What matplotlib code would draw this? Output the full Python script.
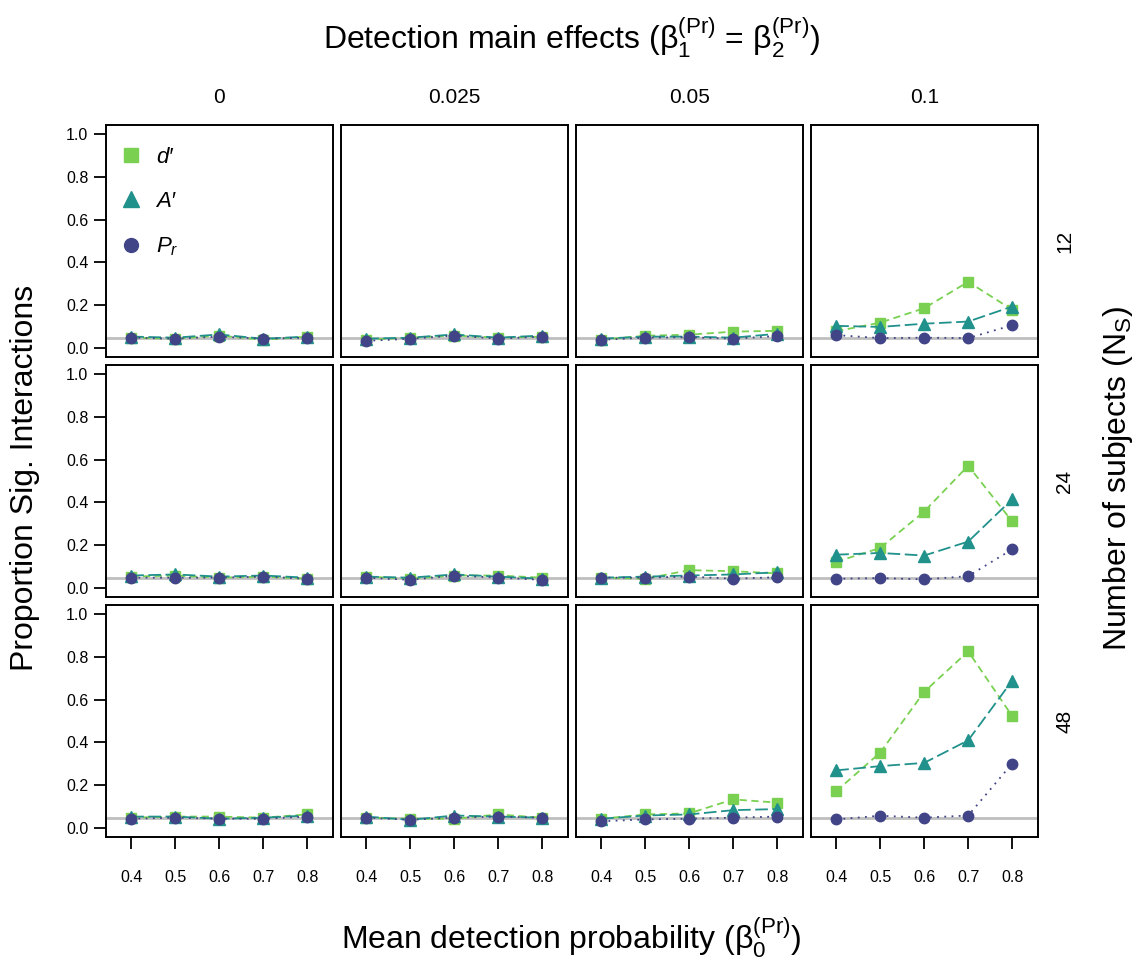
import matplotlib
matplotlib.use("Agg")
import matplotlib.pyplot as plt
from matplotlib.lines import Line2D
import numpy as np

plt.rcParams['font.family'] = ['Liberation Sans', 'DejaVu Sans']
plt.rcParams['mathtext.fontset'] = 'custom'
plt.rcParams['mathtext.rm'] = 'Liberation Sans'
plt.rcParams['mathtext.it'] = 'Liberation Sans:italic'
plt.rcParams['mathtext.bf'] = 'Liberation Sans:bold'

# ---------------- data ----------------
x_vals = [0.4, 0.5, 0.6, 0.7, 0.8]
effects = ["0", "0.025", "0.05", "0.1"]
subjects = ["12", "24", "48"]

# dprime[row][col]
dprime = [
    [[0.050, 0.045, 0.060, 0.040, 0.055],
     [0.040, 0.050, 0.060, 0.050, 0.055],
     [0.041, 0.059, 0.064, 0.078, 0.082],
     [0.080, 0.120, 0.187, 0.310, 0.180]],
    [[0.055, 0.060, 0.050, 0.055, 0.045],
     [0.055, 0.045, 0.060, 0.060, 0.050],
     [0.050, 0.045, 0.085, 0.080, 0.070],
     [0.124, 0.188, 0.358, 0.571, 0.312]],
    [[0.050, 0.055, 0.055, 0.050, 0.065],
     [0.050, 0.045, 0.045, 0.065, 0.050],
     [0.045, 0.065, 0.070, 0.135, 0.120],
     [0.173, 0.353, 0.636, 0.824, 0.523]],
]
aprime = [
    [[0.055, 0.050, 0.065, 0.045, 0.055],
     [0.045, 0.050, 0.065, 0.050, 0.060],
     [0.045, 0.055, 0.055, 0.050, 0.068],
     [0.105, 0.100, 0.115, 0.125, 0.195]],
    [[0.060, 0.065, 0.055, 0.060, 0.050],
     [0.055, 0.050, 0.065, 0.055, 0.045],
     [0.050, 0.055, 0.060, 0.065, 0.075],
     [0.157, 0.165, 0.153, 0.218, 0.415]],
    [[0.055, 0.055, 0.045, 0.050, 0.060],
     [0.055, 0.040, 0.060, 0.055, 0.050],
     [0.045, 0.060, 0.065, 0.085, 0.090],
     [0.270, 0.290, 0.305, 0.410, 0.688]],
]
pr = [
    [[0.050, 0.045, 0.055, 0.045, 0.050],
     [0.035, 0.045, 0.060, 0.045, 0.055],
     [0.040, 0.050, 0.052, 0.045, 0.058],
     [0.062, 0.048, 0.050, 0.048, 0.108]],
    [[0.050, 0.050, 0.050, 0.055, 0.045],
     [0.050, 0.040, 0.060, 0.050, 0.040],
     [0.050, 0.050, 0.055, 0.045, 0.052],
     [0.045, 0.048, 0.042, 0.057, 0.182]],
    [[0.045, 0.050, 0.045, 0.045, 0.055],
     [0.050, 0.040, 0.050, 0.055, 0.050],
     [0.033, 0.042, 0.045, 0.050, 0.055],
     [0.042, 0.059, 0.050, 0.060, 0.302]],
]
alpha_level = 0.05

col_d = "#7AD151"
col_a = "#21918C"
col_p = "#414487"

W, H = 1138, 958
fig = plt.figure(figsize=(W / 100, H / 100), dpi=100)

left0 = 105.7 / W
pw = 227 / W
ppitch = 235 / W
top0 = 1 - 125 / H
ph = 232 / H
vpitch = 240 / H

for r in range(3):
    for c in range(4):
        ax = fig.add_axes([left0 + c * ppitch, top0 - r * vpitch - ph, pw, ph])
        ax.set_xlim(0.342, 0.858)
        ax.set_ylim(-0.04, 1.04)
        ax.axhline(alpha_level, color="#BEBEBE", lw=2, zorder=1)
        ax.plot(x_vals, dprime[r][c], color=col_d, lw=1.3, dashes=(4, 2.5),
                marker="s", ms=7.5, mec=col_d, zorder=3)
        ax.plot(x_vals, aprime[r][c], color=col_a, lw=1.3, dashes=(7, 2.5),
                marker="^", ms=9, mec=col_a, zorder=4)
        ax.plot(x_vals, pr[r][c], color=col_p, lw=1.3, dashes=(1, 3),
                marker="o", ms=7.5, mec=col_p, zorder=5)
        for s in ax.spines.values():
            s.set_linewidth(1.4)
        ax.set_xticks(x_vals)
        ax.set_yticks([0, 0.2, 0.4, 0.6, 0.8, 1.0])
        ax.tick_params(direction="out", length=8.5, width=1.3, labelsize=11.5, pad=4)
        if c == 0:
            ax.set_yticklabels(["0.0", "0.2", "0.4", "0.6", "0.8", "1.0"])
        else:
            ax.tick_params(axis="y", left=False, labelleft=False)
        if r == 2:
            ax.set_xticklabels([str(v) for v in x_vals])
            ax.tick_params(axis="x", pad=15)
        else:
            ax.tick_params(axis="x", bottom=False, labelbottom=False)
        if r == 0:
            ax.text(0.5, 1.12, effects[c], transform=ax.transAxes,
                    ha="center", va="center", fontsize=15)
        if c == 3:
            ax.text(1.12, 0.5, subjects[r], transform=ax.transAxes,
                    ha="center", va="center", rotation=90, fontsize=15)
        if r == 0 and c == 0:
            handles = [
                Line2D([], [], ls="none", marker="s", ms=10, color=col_d),
                Line2D([], [], ls="none", marker="^", ms=11.5, color=col_a),
                Line2D([], [], ls="none", marker="o", ms=10, color=col_p),
            ]
            ax.legend(handles, ["d\u2032", "A\u2032", r"$P_r$"], loc="upper left",
                      frameon=False, prop={'size': 16, 'style': 'italic'},
                      labelspacing=1.05, handlelength=1.0,
                      handletextpad=0.6, borderaxespad=0.0,
                      bbox_to_anchor=(0.025, 0.945))

cx = (105.7 + 1038) / 2 / W
fig.text(cx, 1 - 38 / H,
         r"Detection main effects ($\mathrm{\beta}_1^{(\mathrm{Pr})}$ = $\mathrm{\beta}_2^{(\mathrm{Pr})}$)",
         ha="center", va="center", fontsize=23)
fig.text(cx, 1 - 949 / H,
         r"Mean detection probability ($\mathrm{\beta}_0^{(\mathrm{Pr})}$)",
         ha="center", va="baseline", fontsize=23)
fig.text(25 / W, 1 - 478 / H, "Proportion Sig. Interactions",
         ha="center", va="center", rotation=90, fontsize=23)
fig.text(1118 / W, 1 - 478 / H, r"Number of subjects (N$_\mathrm{S}$)",
         ha="center", va="center", rotation=90, fontsize=23)

fig.savefig("out.png", dpi=100)
